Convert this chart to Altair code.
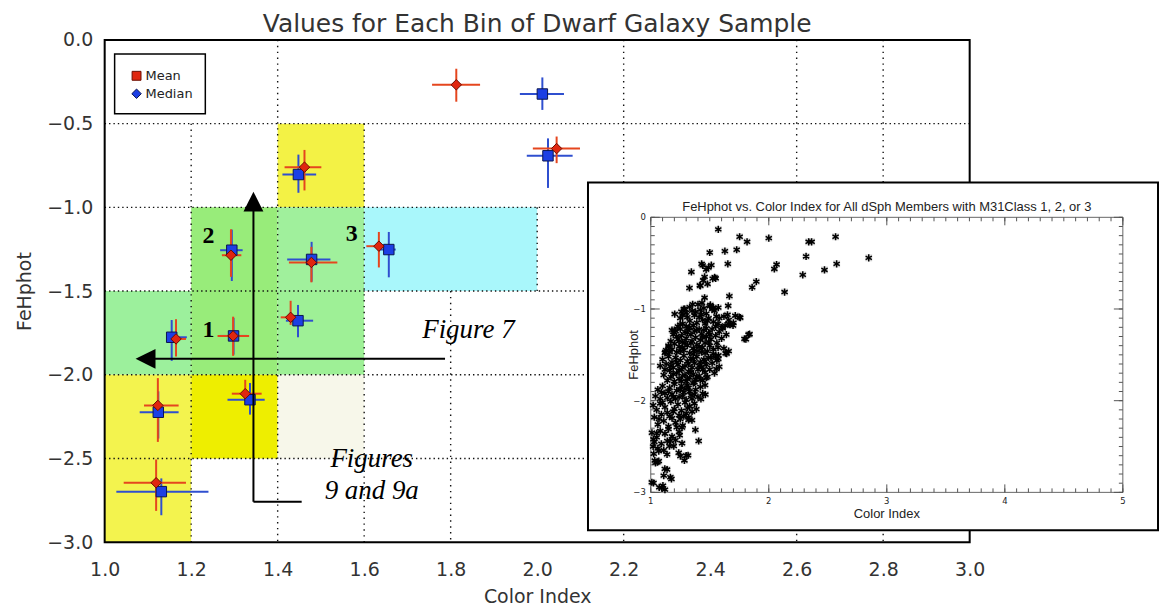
import altair as alt
import pandas as pd

FONT = "DejaVu Sans"
SERIF = "Liberation Serif"
INK = "#333333"

# ---------------- main chart values ----------------
TITLE = "Values for Each Bin of Dwarf Galaxy Sample"
X_TITLE = "Color Index"
Y_TITLE = "FeHphot"
x_domain = [1.0, 3.0]
y_domain = [-3.0, 0.0]
x_ticks = [1.0, 1.2, 1.4, 1.6, 1.8, 2.0, 2.2, 2.4, 2.6, 2.8, 3.0]
y_ticks = [0.0, -0.5, -1.0, -1.5, -2.0, -2.5, -3.0]

# shaded bins
bin_x1 = [1.4, 1.2, 1.4, 1.6, 1.0, 1.2, 1.4, 1.2, 1.4, 1.0]
bin_x2 = [1.6, 1.4, 1.6, 2.0, 1.2, 1.4, 1.6, 1.4, 1.6, 1.2]
bin_y1 = [-0.5, -1.0, -1.0, -1.0, -1.5, -1.5, -1.5, -2.0, -2.0, -2.0]
bin_y2 = [-1.0, -1.5, -1.5, -1.5, -2.0, -2.0, -2.0, -2.5, -2.5, -3.0]
bin_color = ["#f3f245", "#98ec7a", "#a0f09c", "#a9f7fb", "#9cf09c",
             "#98ec7a", "#9ef096", "#eeee00", "#f7f7ea", "#f3f34e"]

# dotted grid
hgrid_y = [-0.5, -1.0, -1.5, -2.0, -2.5]
vgrid_x = [1.2, 1.4, 1.6, 1.8, 2.0, 2.2, 2.6, 2.8]
vgrid_top = [-0.5, 0.0, -0.5, -1.5, -1.0, 0.0, 0.0, 0.0]
vgrid_bot = [-3.0, -3.0, -3.0, -3.0, -1.5, -3.0, -3.0, -3.0]

# Mean (red diamonds) with error bars
mean_x = [1.813, 2.045, 1.634, 1.462, 1.292, 1.478, 1.430, 1.297, 1.165, 1.325, 1.123, 1.119]
mean_y = [-0.268, -0.649, -1.232, -0.760, -1.286, -1.329, -1.657, -1.768, -1.786, -2.113, -2.183, -2.645]
mean_xlo = [1.757, 1.990, 1.605, 1.416, 1.271, 1.426, 1.407, 1.261, 1.150, 1.294, 1.091, 1.044]
mean_xhi = [1.868, 2.099, 1.661, 1.501, 1.316, 1.538, 1.449, 1.334, 1.188, 1.363, 1.171, 1.188]
mean_ylo = [-0.369, -0.736, -1.359, -0.899, -1.415, -1.448, -1.702, -1.887, -1.891, -2.153, -2.401, -2.813]
mean_yhi = [-0.172, -0.577, -1.147, -0.657, -1.131, -1.236, -1.558, -1.653, -1.668, -2.030, -2.020, -2.506]

# Median (blue squares) with error bars
med_x = [2.012, 2.025, 1.657, 1.448, 1.294, 1.4785, 1.447, 1.298, 1.155, 1.336, 1.124, 1.131]
med_y = [-0.323, -0.692, -1.252, -0.804, -1.256, -1.311, -1.677, -1.768, -1.776, -2.149, -2.224, -2.698]
med_xlo = [1.960, 1.976, 1.637, 1.411, 1.267, 1.422, 1.419, 1.266, 1.144, 1.284, 1.081, 1.027]
med_xhi = [2.062, 2.082, 1.673, 1.489, 1.319, 1.522, 1.482, 1.330, 1.190, 1.370, 1.171, 1.240]
med_ylo = [-0.418, -0.884, -1.418, -0.913, -1.440, -1.444, -1.776, -1.880, -1.917, -2.238, -2.381, -2.839]
med_yhi = [-0.224, -0.588, -1.147, -0.685, -1.133, -1.206, -1.583, -1.660, -1.673, -2.049, -2.099, -2.619]

# annotations (data coordinates)
num_text = ["1", "2", "3"]
num_x = [1.240, 1.240, 1.571]
num_y = [-1.732, -1.171, -1.161]
fig_text = ["Figure 7", "Figures", "9 and 9a"]
fig_x = [1.841, 1.6175, 1.6175]
fig_y = [-1.732, -2.506, -2.695]
arrow_x1 = [1.344, 1.344, 1.787]
arrow_x2 = [1.344, 1.4555, 1.110]
arrow_y1 = [-2.758, -2.758, -1.905]
arrow_y2 = [-1.000, -2.758, -1.905]
head_x = [1.344, 1.0945]
head_y = [-0.966, -1.905]
head_shape = ["M0,-1L-1,1L1,1Z", "M-1,0L1,-1L1,1Z"]

# ---------------- inset values ----------------
INSET_TITLE = "FeHphot vs. Color Index for All dSph Members with M31Class 1, 2, or 3"
inset_x_domain = [1.0, 5.0]
inset_y_domain = [-3.0, 0.0]
inset_x_major = [1, 2, 3, 4, 5]
inset_x_labels = ["1", "2", "3", "4", "5"]
inset_y_major = [0, -1, -2, -3]
inset_y_labels = ["0", "\u22121", "\u22122", "\u22123"]
inset_x_minor = [round(1.0 + 0.1 * i, 2) for i in range(41)]
inset_y_minor = [round(-0.1 * i, 2) for i in range(31)]

stars_upper = [
    (1.572, -0.132), (1.753, -0.212), (1.816, -0.267), (2.000, -0.227), (2.338, -0.267),
    (2.363, -0.267), (2.566, -0.212), (2.847, -0.442), (1.500, -0.384), (1.628, -0.369),
    (1.728, -0.354), (1.653, -0.508), (2.316, -0.427), (2.066, -0.515), (2.047, -0.563),
    (2.575, -0.508), (2.472, -0.574), (2.288, -0.628), (1.894, -0.701), (1.859, -0.764),
    (2.134, -0.815), (1.344, -0.596), (1.431, -0.508), (1.513, -0.522), (1.488, -0.548),
    (1.469, -0.570), (1.550, -0.665), (1.525, -0.669), (1.456, -0.650), (1.444, -0.687),
    (1.416, -0.742), (1.481, -0.727), (1.328, -0.771), (1.666, -0.859), (1.456, -0.877),
    (1.656, -0.965), (1.531, -0.986), (1.556, -1.081), (1.750, -1.089), (1.697, -1.180),
    (1.659, -1.162), (1.650, -1.063), (1.828, -1.279), (1.794, -1.326), (1.634, -1.483),
    (1.572, -1.545), (1.556, -1.655), (1.4625, -1.933), (1.434, -0.934), (1.505, -0.956),
    (1.530, -0.992), (1.572, -0.985), (1.716, -1.073), (1.758, -1.095), (1.440, -0.524),
    (1.541, -0.656), (1.420, -0.747), (1.203, -1.055), (1.288, -1.000), (1.355, -0.948),
    (1.837, -1.275), (1.806, -1.330), (1.643, -1.487), (1.573, -1.505),
]
stars_band_a = [
    (1.27, -1.07), (1.25, -1.10), (1.28, -1.00), (1.30, -1.04), (1.33, -0.98), (1.35, -1.02),
    (1.37, -1.07), (1.40, -0.95), (1.42, -1.01), (1.45, -0.99), (1.47, -1.05), (1.50, -0.97),
    (1.52, -1.00), (1.54, -1.02), (1.49, -1.10), (1.44, -1.12), (1.39, -1.15), (1.33, -1.13),
    (1.27, -1.16), (1.23, -1.19), (1.30, -1.19), (1.36, -1.18), (1.41, -1.09), (1.46, -1.16),
    (1.53, -1.14), (1.58, -1.10), (1.62, -1.08), (1.66, -1.12), (1.70, -1.15), (1.63, -1.18),
    (1.60, -1.20), (1.55, -1.19), (1.25, -1.17), (1.26, -1.03), (1.31, -1.09), (1.38, -1.03),
    (1.43, -1.06), (1.48, -1.13), (1.57, -1.16), (1.67, -1.17),
]
stars_band_b = [
    (1.12, -1.48), (1.13, -1.45), (1.15, -1.40), (1.17, -1.35), (1.18, -1.44), (1.19, -1.28),
    (1.20, -1.38), (1.21, -1.24), (1.22, -1.47), (1.23, -1.33), (1.24, -1.41), (1.25, -1.22),
    (1.26, -1.29), (1.27, -1.36), (1.28, -1.45), (1.29, -1.25), (1.30, -1.32), (1.31, -1.40),
    (1.32, -1.21), (1.33, -1.48), (1.34, -1.28), (1.35, -1.35), (1.36, -1.43), (1.37, -1.24),
    (1.38, -1.31), (1.39, -1.39), (1.40, -1.46), (1.41, -1.22), (1.42, -1.34), (1.43, -1.27),
    (1.44, -1.42), (1.45, -1.23), (1.46, -1.37), (1.47, -1.30), (1.48, -1.46), (1.49, -1.26),
    (1.50, -1.40), (1.51, -1.33), (1.52, -1.22), (1.53, -1.44), (1.55, -1.29), (1.56, -1.37),
    (1.58, -1.25), (1.60, -1.32), (1.62, -1.43), (1.64, -1.28), (1.66, -1.46), (1.27, -1.42),
    (1.31, -1.26), (1.36, -1.49), (1.41, -1.41), (1.44, -1.31), (1.49, -1.36), (1.53, -1.49),
    (1.22, -1.30), (1.34, -1.37), (1.39, -1.23), (1.46, -1.48), (1.25, -1.46), (1.29, -1.37),
    (1.57, -1.42), (1.61, -1.21), (1.20, -1.23), (1.16, -1.47), (1.47, -1.21), (1.37, -1.45),
    (1.33, -1.20), (1.43, -1.47), (1.50, -1.28), (1.24, -1.35), (1.124, -1.469), (1.152, -1.414),
    (1.180, -1.231),
]
stars_band_c = [
    (1.08, -1.62), (1.10, -1.55), (1.11, -1.72), (1.13, -1.60), (1.14, -1.78), (1.15, -1.52),
    (1.16, -1.67), (1.17, -1.74), (1.18, -1.58), (1.19, -1.64), (1.20, -1.79), (1.21, -1.53),
    (1.22, -1.70), (1.23, -1.61), (1.24, -1.76), (1.25, -1.56), (1.26, -1.66), (1.27, -1.73),
    (1.28, -1.51), (1.29, -1.62), (1.30, -1.79), (1.31, -1.57), (1.32, -1.68), (1.33, -1.75),
    (1.34, -1.54), (1.35, -1.64), (1.36, -1.71), (1.37, -1.59), (1.38, -1.77), (1.39, -1.52),
    (1.40, -1.66), (1.41, -1.73), (1.42, -1.58), (1.43, -1.63), (1.44, -1.78), (1.45, -1.55),
    (1.46, -1.69), (1.47, -1.61), (1.48, -1.74), (1.49, -1.53), (1.50, -1.66), (1.52, -1.59),
    (1.54, -1.70), (1.56, -1.56), (1.58, -1.63), (1.55, -1.52), (1.22, -1.58), (1.27, -1.64),
    (1.32, -1.60), (1.36, -1.55), (1.41, -1.62), (1.46, -1.57), (1.19, -1.71), (1.24, -1.67),
    (1.29, -1.72), (1.34, -1.69), (1.39, -1.74), (1.44, -1.66), (1.26, -1.79), (1.31, -1.76),
    (1.37, -1.80), (1.42, -1.77), (1.17, -1.62), (1.12, -1.66), (1.47, -1.75), (1.51, -1.53),
]
stars_band_d = [
    (1.04, -1.95), (1.06, -1.88), (1.08, -1.98), (1.10, -1.84), (1.12, -1.92), (1.14, -1.97),
    (1.16, -1.86), (1.18, -1.93), (1.20, -1.82), (1.22, -1.89), (1.24, -1.96), (1.26, -1.84),
    (1.28, -1.91), (1.30, -1.99), (1.32, -1.86), (1.34, -1.94), (1.36, -1.81), (1.38, -1.88),
    (1.40, -1.96), (1.42, -1.85), (1.44, -1.92), (1.46, -1.83), (1.21, -1.98), (1.27, -1.95),
    (1.33, -1.90), (1.15, -1.90), (1.09, -1.91), (1.25, -1.88), (1.31, -1.83), (1.37, -1.93),
    (1.425, -1.982), (1.29, -1.87), (1.35, -1.98), (1.19, -1.96),
]
stars_band_e = [
    (1.02, -2.05), (1.03, -2.18), (1.05, -2.10), (1.06, -2.26), (1.08, -2.03), (1.09, -2.15),
    (1.11, -2.22), (1.12, -2.07), (1.14, -2.13), (1.15, -2.28), (1.17, -2.01), (1.18, -2.19),
    (1.20, -2.09), (1.21, -2.24), (1.23, -2.04), (1.24, -2.16), (1.26, -2.11), (1.27, -2.27),
    (1.29, -2.02), (1.30, -2.14), (1.32, -2.21), (1.33, -2.06), (1.35, -2.12), (1.37, -2.03),
    (1.10, -2.02), (1.19, -2.12), (1.25, -2.20), (1.31, -2.08), (1.16, -2.17), (1.07, -2.20),
    (1.22, -2.29), (1.386, -2.092), (1.349, -2.212), (1.321, -2.183), (1.28, -2.17),
]
stars_band_f = [
    (1.406, -2.440), (1.378, -2.319), (1.265, -2.465), (1.195, -2.495), (1.237, -2.568),
    (1.251, -2.604), (1.316, -2.597), (1.285, -2.652), (1.138, -2.586), (1.068, -2.659),
    (1.040, -2.678), (1.138, -2.751), (1.110, -2.817), (1.175, -2.854), (1.023, -2.898),
    (1.093, -2.953), (1.120, -2.970), (1.068, -2.550), (1.023, -2.421), (1.051, -2.355),
    (1.166, -2.440), (1.158, -2.495), (1.245, -2.377), (1.265, -2.293), (1.166, -2.835),
    (1.119, -2.744), (1.103, -2.927), (1.072, -2.945), (1.009, -2.890), (1.034, -2.653),
    (1.056, -2.671), (1.025, -2.579), (1.300, -2.598), (1.01, -2.35), (1.03, -2.45),
    (1.05, -2.40), (1.08, -2.33), (1.09, -2.47), (1.12, -2.36), (1.14, -2.44), (1.18, -2.39),
    (1.21, -2.43), (1.24, -2.34), (1.06, -2.52), (1.11, -2.54), (1.02, -2.50), (1.15, -2.31),
]

# ---------------- helpers ----------------
xs = alt.Scale(domain=x_domain, nice=False, zero=False)
ys = alt.Scale(domain=y_domain, nice=False, zero=False)
xaxis = alt.Axis(values=x_ticks, format=".1f", title=X_TITLE, domain=False, ticks=False, grid=False,
                 labelFont=FONT, labelFontSize=19, labelColor=INK, labelPadding=18, labelFlush=False,
                 titleFont=FONT, titleFontSize=19, titleFontWeight="normal", titleColor=INK, titlePadding=9)
yaxis = alt.Axis(values=y_ticks, format=".1f", title=Y_TITLE, domain=False, ticks=False, grid=False,
                 labelFont=FONT, labelFontSize=19, labelColor=INK, labelPadding=12, labelFlush=False,
                 titleFont=FONT, titleFontSize=19, titleFontWeight="normal", titleColor=INK, titlePadding=12)


def MX(f):
    return alt.X(f, type="quantitative", scale=xs, axis=xaxis)


def MY(f):
    return alt.Y(f, type="quantitative", scale=ys, axis=yaxis)


ixs = alt.Scale(domain=inset_x_domain, range=[548, 1021.7], nice=False, zero=False)
iys = alt.Scale(domain=inset_y_domain, range=[454, 178], nice=False, zero=False)


def IX(f):
    return alt.X(f, type="quantitative", scale=ixs, axis=None)


def IY(f):
    return alt.Y(f, type="quantitative", scale=iys, axis=None)


# ---------------- main layers ----------------
bins_df = pd.DataFrame({"x1": bin_x1, "x2": bin_x2, "y1": bin_y1, "y2": bin_y2, "c": bin_color})
rects = alt.Chart(bins_df).mark_rect(strokeWidth=0).encode(
    x=MX("x1"), x2="x2", y=MY("y1"), y2="y2", color=alt.Color("c:N", scale=None))

hgrid_df = pd.DataFrame({"y": hgrid_y, "x1": [x_domain[0]] * len(hgrid_y), "x2": [x_domain[1]] * len(hgrid_y)})
hgrid = alt.Chart(hgrid_df).mark_rule(color="#111", strokeWidth=1.4, strokeDash=[1.4, 3]).encode(
    x=MX("x1"), x2="x2", y=MY("y"))
vgrid_df = pd.DataFrame({"x": vgrid_x, "y1": vgrid_top, "y2": vgrid_bot})
vgrid = alt.Chart(vgrid_df).mark_rule(color="#111", strokeWidth=1.4, strokeDash=[1.4, 4.5]).encode(
    x=MX("x"), y=MY("y1"), y2="y2")

frame_df = pd.DataFrame({"x1": [x_domain[0]], "x2": [x_domain[1]], "y1": [y_domain[0]], "y2": [y_domain[1]]})
frame = alt.Chart(frame_df).mark_rect(filled=False, stroke="black", strokeWidth=2).encode(
    x=MX("x1"), x2="x2", y=MY("y1"), y2="y2")

mean_df = pd.DataFrame({"x": mean_x, "y": mean_y, "xlo": mean_xlo, "xhi": mean_xhi,
                        "ylo": mean_ylo, "yhi": mean_yhi})
med_df = pd.DataFrame({"x": med_x, "y": med_y, "xlo": med_xlo, "xhi": med_xhi,
                       "ylo": med_ylo, "yhi": med_yhi})

RED_BAR = "#e5461e"
BLUE_BAR = "#2f4fcf"


def bars(df, color):
    h = alt.Chart(df).mark_rule(color=color, strokeWidth=2).encode(x=MX("xlo"), x2="xhi", y=MY("y"))
    v = alt.Chart(df).mark_rule(color=color, strokeWidth=2).encode(x=MX("x"), y=MY("ylo"), y2="yhi")
    return [h, v]


med_pts = alt.Chart(med_df).mark_point(shape="square", filled=True, size=110, fill="#1c3fe4",
                                       stroke="#0b1650", strokeWidth=1, opacity=1).encode(x=MX("x"), y=MY("y"))
mean_pts = alt.Chart(mean_df).mark_point(shape="diamond", filled=True, size=110, fill="#e0260f",
                                         stroke="#6a0c00", strokeWidth=1, opacity=1).encode(x=MX("x"), y=MY("y"))

arrow_df = pd.DataFrame({"x1": arrow_x1, "x2": arrow_x2, "y1": arrow_y1, "y2": arrow_y2})
arrows = alt.Chart(arrow_df).mark_rule(color="black", strokeWidth=2).encode(
    x=MX("x1"), x2="x2", y=MY("y1"), y2="y2")
head_df = pd.DataFrame({"x": head_x, "y": head_y, "s": head_shape})
heads = alt.Chart(head_df).mark_point(filled=True, size=400, color="black", opacity=1).encode(
    x=MX("x"), y=MY("y"), shape=alt.Shape("s:N", scale=None))

num_df = pd.DataFrame({"x": num_x, "y": num_y, "t": num_text})
nums = alt.Chart(num_df).mark_text(font=SERIF, fontWeight="bold", fontSize=24, color="black",
                                   baseline="middle", align="center").encode(x=MX("x"), y=MY("y"), text="t:N")
fig_df = pd.DataFrame({"x": fig_x, "y": fig_y, "t": fig_text})
figs = alt.Chart(fig_df).mark_text(font=SERIF, fontStyle="italic", fontSize=27, color="black",
                                   baseline="middle", align="center").encode(x=MX("x"), y=MY("y"), text="t:N")

# manual legend (box + entries)
one = pd.DataFrame({"k": [0]})
leg_box = alt.Chart(one).mark_rect(fill="white", stroke="black", strokeWidth=1.5).encode(
    x=alt.value(10), x2=alt.value(101), y=alt.value(14), y2=alt.value(74))
leg_mean = alt.Chart(one).mark_point(shape="square", filled=True, size=80, fill="#e0260f",
                                     stroke="#6a0c00", strokeWidth=1, opacity=1).encode(
    x=alt.value(32), y=alt.value(36))
leg_med = alt.Chart(one).mark_point(shape="diamond", filled=True, size=90, fill="#1c3fe4",
                                    stroke="#0b1650", strokeWidth=1, opacity=1).encode(
    x=alt.value(32), y=alt.value(54))
leg_mean_t = alt.Chart(pd.DataFrame({"t": ["Mean"]})).mark_text(
    font=FONT, fontSize=13, color="#222", align="left", baseline="middle").encode(
    x=alt.value(41), y=alt.value(36), text="t:N")
leg_med_t = alt.Chart(pd.DataFrame({"t": ["Median"]})).mark_text(
    font=FONT, fontSize=13, color="#222", align="left", baseline="middle").encode(
    x=alt.value(41), y=alt.value(54), text="t:N")

main = alt.layer(
    rects, hgrid, vgrid, frame,
    *bars(med_df, BLUE_BAR), *bars(mean_df, RED_BAR),
    med_pts, mean_pts, arrows, heads, nums, figs,
    leg_box, leg_mean, leg_med, leg_mean_t, leg_med_t,
)

# ---------------- inset layers ----------------
ibox = alt.Chart(one).mark_rect(fill="white", stroke="black", strokeWidth=2).encode(
    x=alt.value(485), x2=alt.value(1057), y=alt.value(143), y2=alt.value(492))
iframe_df = pd.DataFrame({"x1": [inset_x_domain[0]], "x2": [inset_x_domain[1]],
                          "y1": [inset_y_domain[0]], "y2": [inset_y_domain[1]]})
iframe = alt.Chart(iframe_df).mark_rect(filled=False, stroke="#666", strokeWidth=1).encode(
    x=IX("x1"), x2="x2", y=IY("y1"), y2="y2")


def tick_df(vals, edge):
    return pd.DataFrame({"t": vals, "e": [edge] * len(vals)})


TK = "#555"
iticks = [
    alt.Chart(tick_df(inset_x_minor, inset_y_domain[0])).mark_rule(color=TK, y2Offset=-4).encode(
        x=IX("t"), y=IY("e"), y2="e"),
    alt.Chart(tick_df(inset_x_minor, inset_y_domain[1])).mark_rule(color=TK, y2Offset=4).encode(
        x=IX("t"), y=IY("e"), y2="e"),
    alt.Chart(tick_df(inset_x_major, inset_y_domain[0])).mark_rule(color=TK, y2Offset=-8).encode(
        x=IX("t"), y=IY("e"), y2="e"),
    alt.Chart(tick_df(inset_x_major, inset_y_domain[1])).mark_rule(color=TK, y2Offset=8).encode(
        x=IX("t"), y=IY("e"), y2="e"),
    alt.Chart(tick_df(inset_y_minor, inset_x_domain[0])).mark_rule(color=TK, x2Offset=4).encode(
        y=IY("t"), x=IX("e"), x2="e"),
    alt.Chart(tick_df(inset_y_minor, inset_x_domain[1])).mark_rule(color=TK, x2Offset=-4).encode(
        y=IY("t"), x=IX("e"), x2="e"),
    alt.Chart(tick_df(inset_y_major, inset_x_domain[0])).mark_rule(color=TK, x2Offset=9).encode(
        y=IY("t"), x=IX("e"), x2="e"),
    alt.Chart(tick_df(inset_y_major, inset_x_domain[1])).mark_rule(color=TK, x2Offset=-9).encode(
        y=IY("t"), x=IX("e"), x2="e"),
]
ixlab_df = pd.DataFrame({"t": inset_x_major, "lab": inset_x_labels, "e": [inset_y_domain[0]] * 5})
ixlab = alt.Chart(ixlab_df).mark_text(font=FONT, fontSize=8.5, color="#222", baseline="top", dy=5).encode(
    x=IX("t"), y=IY("e"), text="lab:N")
iylab_df = pd.DataFrame({"t": inset_y_major, "lab": inset_y_labels, "e": [inset_x_domain[0]] * 4})
iylab = alt.Chart(iylab_df).mark_text(font=FONT, fontSize=8.5, color="#222", align="right",
                                      baseline="middle", dx=-5).encode(x=IX("e"), y=IY("t"), text="lab:N")

all_stars = stars_upper + stars_band_a + stars_band_b + stars_band_c + stars_band_d + stars_band_e + stars_band_f
star_df = pd.DataFrame(all_stars, columns=["x", "y"])
ASTER = "M0,-1L0,1M-0.87,-0.5L0.87,0.5M-0.87,0.5L0.87,-0.5"
star_halo = alt.Chart(star_df).mark_point(shape="square", filled=True, size=48, fill="#b0b0b0",
                                          opacity=0.5).encode(x=IX("x"), y=IY("y"))
stars = alt.Chart(star_df).mark_point(shape=ASTER, filled=False, size=52, stroke="black",
                                      strokeWidth=1.5, opacity=1).encode(x=IX("x"), y=IY("y"))

itext_df = pd.DataFrame({"x": [3.0, 3.0], "y": [0.11, -3.24], "t": [INSET_TITLE, X_TITLE]})
itexts = alt.Chart(itext_df).mark_text(font="Liberation Sans", fontSize=13, color="#222",
                                       baseline="middle").encode(x=IX("x"), y=IY("y"), text="t:N")
iytitle = alt.Chart(pd.DataFrame({"x": [0.86], "y": [-1.5], "t": [Y_TITLE]})).mark_text(
    font="Liberation Sans", fontSize=13, color="#222", angle=270, baseline="middle").encode(
    x=IX("x"), y=IY("y"), text="t:N")

inset = alt.layer(ibox, iframe, *iticks, ixlab, iylab, star_halo, stars, itexts, iytitle)

chart = alt.layer(main, inset).resolve_scale(x="independent", y="independent").properties(
    width=868, height=504,
    padding={"left": 97, "top": 31, "right": 192, "bottom": 66},
    autosize=alt.AutoSizeParams(type="none"),
    title=alt.TitleParams(TITLE, font=FONT, fontSize=25, fontWeight="normal", color=INK,
                          anchor="middle", offset=0, dy=6),
).configure_view(stroke=None).configure(background="white")

chart.save("out.html", embed_options={"renderer": "svg", "actions": False})
